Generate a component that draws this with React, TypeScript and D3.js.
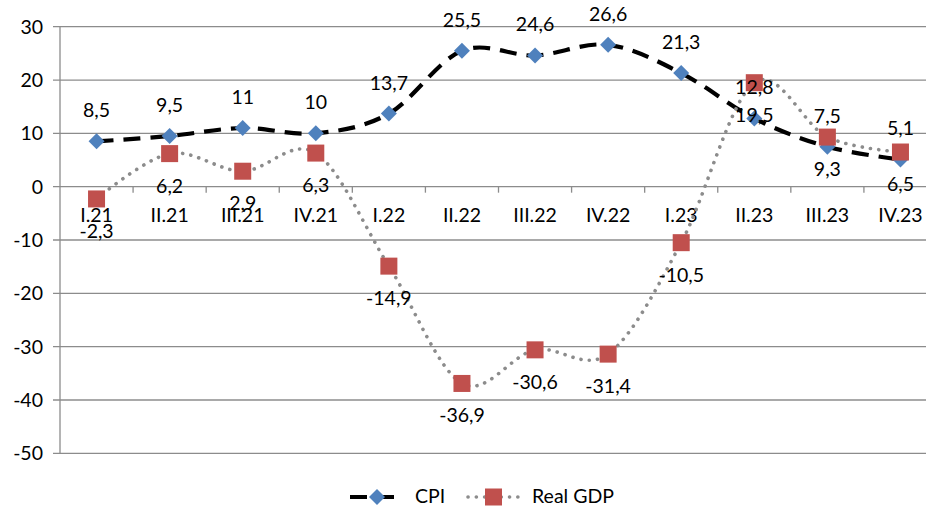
import React from "react";
import * as d3 from "d3";

const categories = ["I.21", "II.21", "III.21", "IV.21", "I.22", "II.22", "III.22", "IV.22", "I.23", "II.23", "III.23", "IV.23"];
const cpi = [8.5, 9.5, 11, 10, 13.7, 25.5, 24.6, 26.6, 21.3, 12.8, 7.5, 5.1];
const gdp = [-2.3, 6.2, 2.9, 6.3, -14.9, -36.9, -30.6, -31.4, -10.5, 19.5, 9.3, 6.5];
const yTicks = [30, 20, 10, 0, -10, -20, -30, -40, -50];

const W = 926, H = 507;
const FONT = "Lato, 'Noto Sans', sans-serif";
const FS = 19.5;
const GRID = "#8c8c8c";

export default function App() {
  const x = d3.scaleBand<string>().domain(categories).range([60, 937]);
  const y = d3.scaleLinear().domain([-50, 30]).range([453.3, 26.7]);
  const cx = (c: string) => (x(c) as number) + x.bandwidth() / 2;
  const line = d3.line<number>().x((_, i) => cx(categories[i])).y(d => y(d)).curve(d3.curveCardinal.tension(0));
  const fmt = (v: number) => String(v).replace(".", ",");

  return (
    <svg width={W} height={H} style={{ position: "absolute", left: 0, top: 0, overflow: "hidden" }} fontFamily={FONT}>
      <rect width={W} height={H} fill="#fff" />
      {yTicks.map(t => (
        <g key={t}>
          <line x1={53} x2={937} y1={y(t)} y2={y(t)} stroke={GRID} strokeWidth={1.3} />
          <text x={43} y={y(t)} dy="0.36em" textAnchor="end" fontSize={FS} fill="#000">{t}</text>
        </g>
      ))}
      <line x1={60} x2={60} y1={y(30)} y2={y(-50)} stroke={GRID} strokeWidth={1.3} />
      {categories.map((c, i) => (
        <line key={"t" + i} x1={(x(c) as number) + x.bandwidth()} x2={(x(c) as number) + x.bandwidth()} y1={y(0)} y2={y(0) + 6} stroke={GRID} strokeWidth={1.3} />
      ))}
      {categories.map(c => (
        <text key={"c" + c} x={cx(c)} y={222} textAnchor="middle" fontSize={FS} fill="#000">{c}</text>
      ))}
      <path d={line(cpi) || ""} fill="none" stroke="#000" strokeWidth={4.2} strokeDasharray="17 10" />
      {cpi.map((v, i) => {
        const px = cx(categories[i]), py = y(v);
        return <path key={"d" + i} d={`M${px},${py - 8}L${px + 8},${py}L${px},${py + 8}L${px - 8},${py}Z`} fill="#4F81BD" />;
      })}
      <path d={line(gdp) || ""} fill="none" stroke="#8c8c8c" strokeWidth={3.6} strokeDasharray="0.1 8.2" strokeLinecap="round" />
      {gdp.map((v, i) => {
        const px = cx(categories[i]), py = y(v);
        return <rect key={"s" + i} x={px - 8.5} y={py - 8.5} width={17} height={17} fill="#C0504D" />;
      })}
      {cpi.map((v, i) => (
        <text key={"lc" + i} x={cx(categories[i])} y={y(v) - 24} textAnchor="middle" fontSize={FS} fill="#000">{fmt(v)}</text>
      ))}
      {gdp.map((v, i) => (
        <text key={"lg" + i} x={cx(categories[i])} y={y(v) + 39} textAnchor="middle" fontSize={FS} fill="#000">{fmt(v)}</text>
      ))}
      <g>
        <line x1={350} x2={403} y1={497} y2={497} stroke="#000" strokeWidth={4.2} strokeDasharray="17 10" />
        <path d="M377,489L385,497L377,505L369,497Z" fill="#4F81BD" />
        <text x={415} y={503} fontSize={FS} fill="#000">CPI</text>
        <line x1={468} x2={520} y1={497} y2={497} stroke="#8c8c8c" strokeWidth={3.6} strokeDasharray="0.1 8.2" strokeLinecap="round" />
        <rect x={485} y={488.5} width={17} height={17} fill="#C0504D" />
        <text x={532} y={503} fontSize={FS} fill="#000">Real GDP</text>
      </g>
    </svg>
  );
}
